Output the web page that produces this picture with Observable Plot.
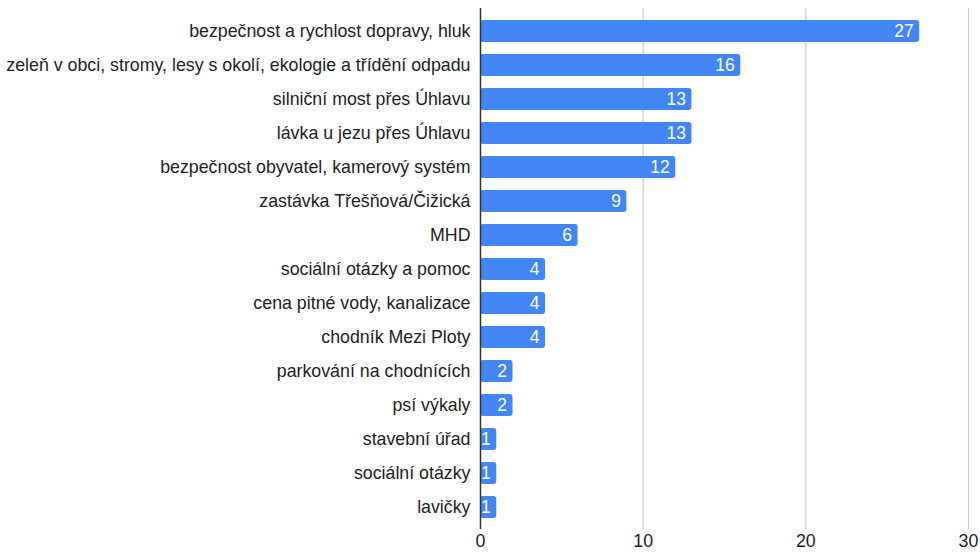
<!DOCTYPE html>
<html>
<head>
<meta charset="utf-8">
<script src="https://cdn.jsdelivr.net/npm/d3@7"></script>
<script src="https://cdn.jsdelivr.net/npm/@observablehq/plot@0.6"></script>
<style>
  html, body { margin: 0; padding: 0; background: #fff; }
  #chart { width: 980px; height: 556px; }
</style>
</head>
<body>
<div id="chart"></div>
<script>
const categories = [
  "bezpečnost a rychlost dopravy, hluk",
  "zeleň v obci, stromy, lesy s okolí, ekologie a třídění odpadu",
  "silniční most přes Úhlavu",
  "lávka u jezu přes Úhlavu",
  "bezpečnost obyvatel, kamerový systém",
  "zastávka Třešňová/Čižická",
  "MHD",
  "sociální otázky a pomoc",
  "cena pitné vody, kanalizace",
  "chodník Mezi Ploty",
  "parkování na chodnících",
  "psí výkaly",
  "stavební úřad",
  "sociální otázky",
  "lavičky"
];
const values = [27, 16, 13, 13, 12, 9, 6, 4, 4, 4, 2, 2, 1, 1, 1];
const xTicks = [0, 10, 20, 30];

const data = categories.map((c, i) => ({category: c, value: values[i]}));

const chart = Plot.plot({
  width: 980,
  height: 556,
  marginLeft: 480,
  marginRight: 12,
  marginTop: 8,
  marginBottom: 27,
  style: {fontFamily: "'Liberation Sans', Arial, sans-serif", fontSize: "17.8px", color: "#222", background: "#fff"},
  x: {domain: [0, 30], ticks: xTicks, label: null, tickSize: 0, tickPadding: 5},
  y: {domain: categories, label: null, tickSize: 0, tickPadding: 10, paddingInner: 0.36, paddingOuter: 0.16},
  marks: [
    Plot.ruleX(xTicks.slice(1), {stroke: "#cccccc", strokeWidth: 1.2}),
    Plot.barX(data, {x: "value", y: "category", fill: "#4285F4", rx: 3}),
    Plot.ruleX([0], {stroke: "#333", strokeWidth: 1.5}),
    Plot.text(data, {x: "value", y: "category", text: d => String(d.value), dx: -6, textAnchor: "end", fill: "white", fontSize: 17.5})
  ]
});
document.getElementById("chart").appendChild(chart);
</script>
</body>
</html>
